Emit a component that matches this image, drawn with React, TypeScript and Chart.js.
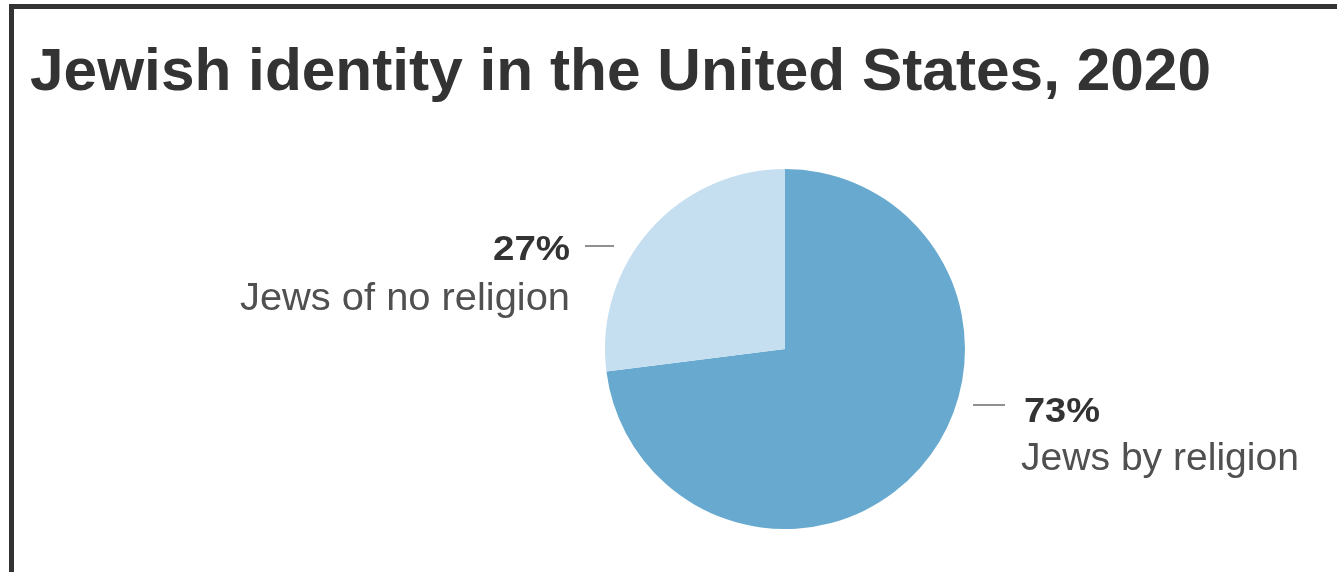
import React, { useEffect, useRef } from "react";
import { Chart, registerables } from "chart.js";

Chart.register(...registerables);

const TITLE = "Jewish identity in the United States, 2020";
const categories = ["Jews by religion", "Jews of no religion"];
const values = [73, 27];
const colors = ["#68a9cf", "#c5dff0"];

// label placement relative to each arc's centre (pixels)
const labelLayout = [
  { side: "right", dashDy: 56, dashX0: 188, dashX1: 220, textDx: 236, pctDy: 17, nameDy: 65, pctW: 76, nameW: 278 },
  { side: "left", dashDy: -103, dashX0: -200, dashX1: -171, textDx: -215, pctDy: 14, nameDy: 64, pctW: 77, nameW: 330 },
];

function fitText(ctx: CanvasRenderingContext2D, text: string, x: number, y: number, width: number, align: CanvasTextAlign) {
  const w = ctx.measureText(text).width;
  const s = w > 0 ? width / w : 1;
  ctx.save();
  ctx.translate(x, y);
  ctx.scale(s, 1);
  ctx.textAlign = align;
  ctx.textBaseline = "alphabetic";
  ctx.fillText(text, 0, 0);
  ctx.restore();
}

const annotate = {
  id: "annotate",
  afterDraw(chart: any) {
    const ctx: CanvasRenderingContext2D = chart.ctx;
    ctx.save();
    ctx.fillStyle = "#333333";
    ctx.font = "bold 60px 'Liberation Sans', Arial, sans-serif";
    fitText(ctx, TITLE, 30, 90, 1181, "left");

    const meta = chart.getDatasetMeta(0);
    meta.data.forEach((arc: any, i: number) => {
      const { x, y } = arc.getProps(["x", "y"], true);
      const L = labelLayout[i];
      const dy = y + L.dashDy;
      ctx.strokeStyle = "#6b6b6b";
      ctx.lineWidth = 1.5;
      ctx.beginPath();
      ctx.moveTo(x + L.dashX0, dy);
      ctx.lineTo(x + L.dashX1, dy);
      ctx.stroke();
      const align: CanvasTextAlign = L.side === "right" ? "left" : "right";
      ctx.fillStyle = "#333333";
      ctx.font = "bold 35px 'Liberation Sans', Arial, sans-serif";
      fitText(ctx, `${values[i]}%`, x + L.textDx + (L.side === "right" ? 3 : 0), dy + L.pctDy, L.pctW, align);
      ctx.fillStyle = "#505050";
      ctx.font = "39px 'Liberation Sans', Arial, sans-serif";
      fitText(ctx, categories[i], x + L.textDx, dy + L.nameDy, L.nameW, align);
    });
    ctx.restore();
  },
};

export default function App() {
  const ref = useRef<HTMLCanvasElement>(null);
  useEffect(() => {
    document.body.style.margin = "0";
    if (!ref.current) return;
    const chart = new Chart(ref.current, {
      type: "pie",
      data: {
        labels: categories,
        datasets: [
          {
            data: values,
            backgroundColor: colors,
            borderWidth: 0,
          },
        ],
      },
      options: {
        animation: false,
        responsive: false,
        layout: { padding: { left: 605, right: 372, top: 169, bottom: 43 } },
        plugins: {
          legend: { display: false },
          tooltip: { enabled: false },
          title: { display: false },
        },
      },
      plugins: [annotate],
    });
    return () => chart.destroy();
  }, []);
  return (
    <div style={{ position: "relative", width: 1337, height: 572, background: "#fff", overflow: "hidden" }}>
      <div
        style={{
          position: "absolute",
          left: 9,
          top: 4,
          right: 0,
          bottom: 0,
          borderTop: "5px solid #333",
          borderLeft: "5px solid #333",
        }}
      />
      <canvas ref={ref} width={1337} height={572} style={{ position: "absolute", left: 0, top: 0 }} />
    </div>
  );
}
